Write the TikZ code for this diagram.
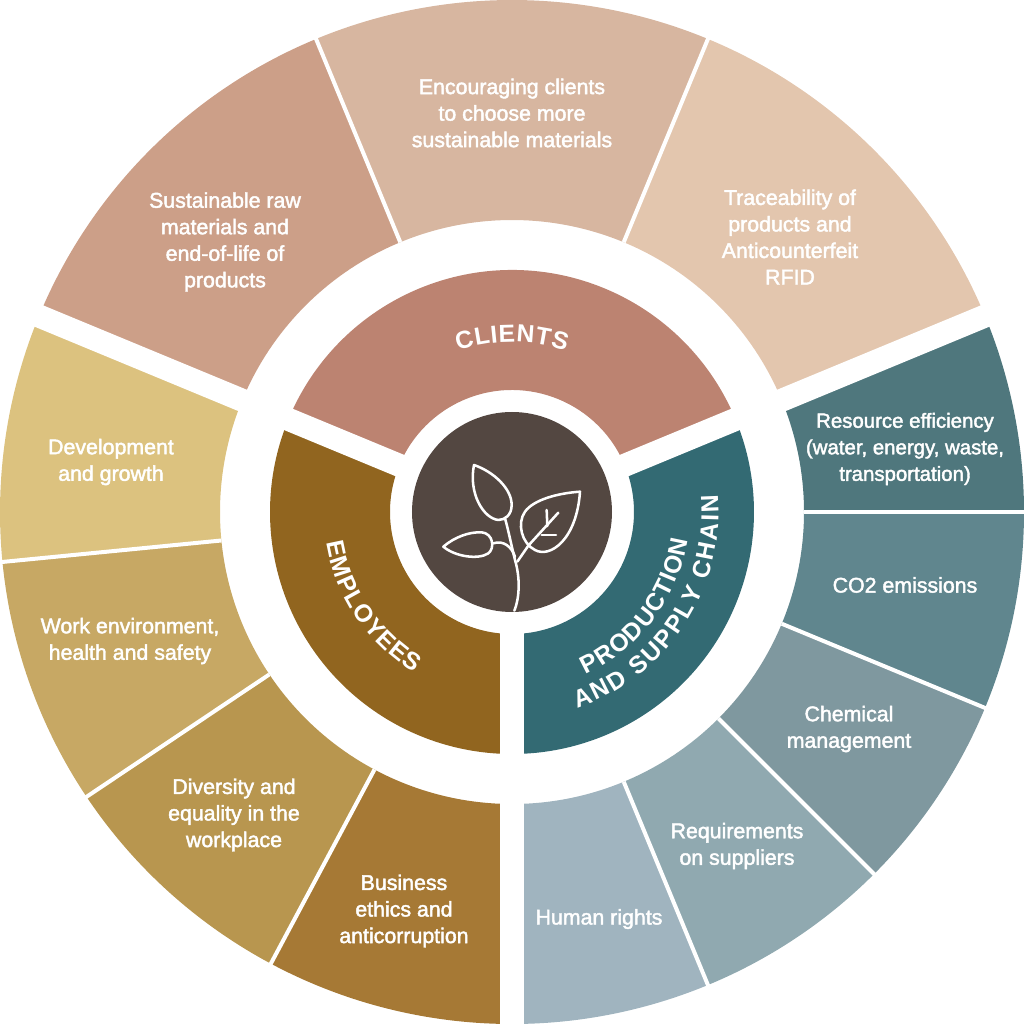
\documentclass[tikz,border=0pt]{standalone}
\usepackage{fontspec}
\setmainfont{Liberation Sans}[UprightFeatures={FakeBold=2}]
\usetikzlibrary{decorations.text}
\definecolor{cClients}{HTML}{BC8371}
\definecolor{cEmployees}{HTML}{91651F}
\definecolor{cProduction}{HTML}{336A73}
\definecolor{cCentre}{HTML}{534741}
\definecolor{cSus}{HTML}{CC9F88}
\definecolor{cEnc}{HTML}{D7B6A0}
\definecolor{cTra}{HTML}{E3C6AE}
\definecolor{cDev}{HTML}{DCC27F}
\definecolor{cWor}{HTML}{C7A864}
\definecolor{cDiv}{HTML}{B8964F}
\definecolor{cBus}{HTML}{A67935}
\definecolor{cHum}{HTML}{A0B4BF}
\definecolor{cReq}{HTML}{90A9B0}
\definecolor{cChe}{HTML}{7F989F}
\definecolor{cCOt}{HTML}{60868E}
\definecolor{cRes}{HTML}{4F777D}
\newcommand{\ringpart}[3]{\fill[#3] (#1:292) arc (#1:#2:292) -- (#2:512) arc (#2:#1:512) -- cycle;}
\newcommand{\corepart}[3]{\fill[#3] (#1:122) arc (#1:#2:122) -- (#2:242) arc (#2:#1:242) -- cycle;}
\tikzset{
  topic/.style={text=white,align=center,font=\fontsize{16}{19.9}\selectfont},
  thinrule/.style={white,line width=3pt},
  widegap/.style={white,line width=17.25pt},
  sprig/.style={white,line width=1.9pt,line join=round,line cap=round},
  bent/.style={decorate,decoration={text along path,text align=fit to path,
    text={|\fontsize{18.5}{20}\selectfont\bfseries\color{white}|#1}}}
}
\begin{document}
\begin{tikzpicture}[x=0.75pt,y=0.75pt]
  \useasboundingbox (-512,-512) rectangle (512,512);
  % outer ring
  \ringpart{112.5}{157.5}{cSus}
  \ringpart{67.5}{112.5}{cEnc}
  \ringpart{22.5}{67.5}{cTra}
  \ringpart{157.5}{185.6}{cDev}
  \ringpart{185.6}{213.8}{cWor}
  \ringpart{213.8}{241.9}{cDiv}
  \ringpart{241.9}{270}{cBus}
  \ringpart{270}{292.5}{cHum}
  \ringpart{292.5}{315}{cReq}
  \ringpart{315}{337.5}{cChe}
  \ringpart{337.5}{360}{cCOt}
  \ringpart{0}{22.5}{cRes}
  % inner ring
  \corepart{22.5}{157.5}{cClients}
  \corepart{157.5}{270}{cEmployees}
  \corepart{270}{382.5}{cProduction}
  \foreach \a in {67.5,112.5,185.6,213.8,241.9,292.5,315,337.5,0}
    \draw[thinrule] (\a:292) -- (\a:520);
  \foreach \a in {22.5,157.5,270}
    \draw[widegap] (\a:100) -- (\a:520);
  \fill[cCentre] (0,0) circle (100);
  % plant
  \begin{scope}[shift={(-112,112)},x=0.25pt,y=-0.25pt]
    \draw[sprig] (222,195) .. controls (280,215) and (335,265) .. (335,315)
      .. controls (335,345) and (315,360) .. (295,360)
      .. controls (250,355) and (205,280) .. (222,195) -- cycle;
    \draw[sprig] (540,275) .. controls (470,280) and (400,300) .. (375,335)
      .. controls (350,370) and (365,430) .. (405,450)
      .. controls (450,475) and (530,420) .. (540,275) -- cycle;
    \draw[sprig] (130,440) .. controls (165,410) and (210,395) .. (245,397)
      .. controls (280,400) and (285,445) .. (265,460)
      .. controls (235,480) and (165,470) .. (130,440) -- cycle;
    \draw[sprig] (343,632) .. controls (360,590) and (360,530) .. (345,480)
      .. controls (335,440) and (325,390) .. (315,355);
    \draw[sprig] (280,430) .. controls (310,420) and (335,440) .. (345,470);
    \draw[sprig] (352,485) -- (385,437) -- (475,338);
    \draw[sprig] (442,378) -- (440,330);
    \draw[sprig] (425,405) -- (468,405);
  \end{scope}
  % ring labels
  \node[topic] (Enc) at (0,399) {Encouraging clients\\to choose more\\sustainable materials};
  \node[topic] (Tra) at (278,275) {Traceability of\\products and\\Anticounterfeit\\RFID};
  \node[topic] (Sus) at (-287,270) {Sustainable raw\\materials and\\end-of-life of\\products};
  \node[topic] (Dev) at (-401,50) {Development\\and growth};
  \node[topic] (Wor) at (-382,-129) {Work environment,\\health and safety};
  \node[topic] (Div) at (-278,-303) {Diversity and\\equality in the\\workplace};
  \node[topic] (Bus) at (-108,-399) {Business\\ethics and\\anticorruption};
  \node[topic] (Hum) at (87,-407) {Human rights};
  \node[topic] (Req) at (225,-334) {Requirements\\on suppliers};
  \node[topic] (Che) at (337,-217) {Chemical\\management};
  \node[topic] (COt) at (393,-73) {CO2 emissions};
  \node[topic,font=\fontsize{15.3}{19.9}\selectfont] (Res) at (393,63) {Resource efficiency\\(water, energy, waste,\\transportation)};
  % bent titles
  \path[bent=CLIENTS] (108.5:170) arc (108.5:71.5:170);
  \path[bent=EMPLOYEES] (189.4:188) arc (189.4:238.8:188);
  \path[bent=PRODUCTION] (-65.6:178) arc (-65.6:-9:178);
  \path[bent=AND SUPPLY CHAIN] (-71.6:206.5) arc (-71.6:4.7:206.5);
\end{tikzpicture}
\end{document}
